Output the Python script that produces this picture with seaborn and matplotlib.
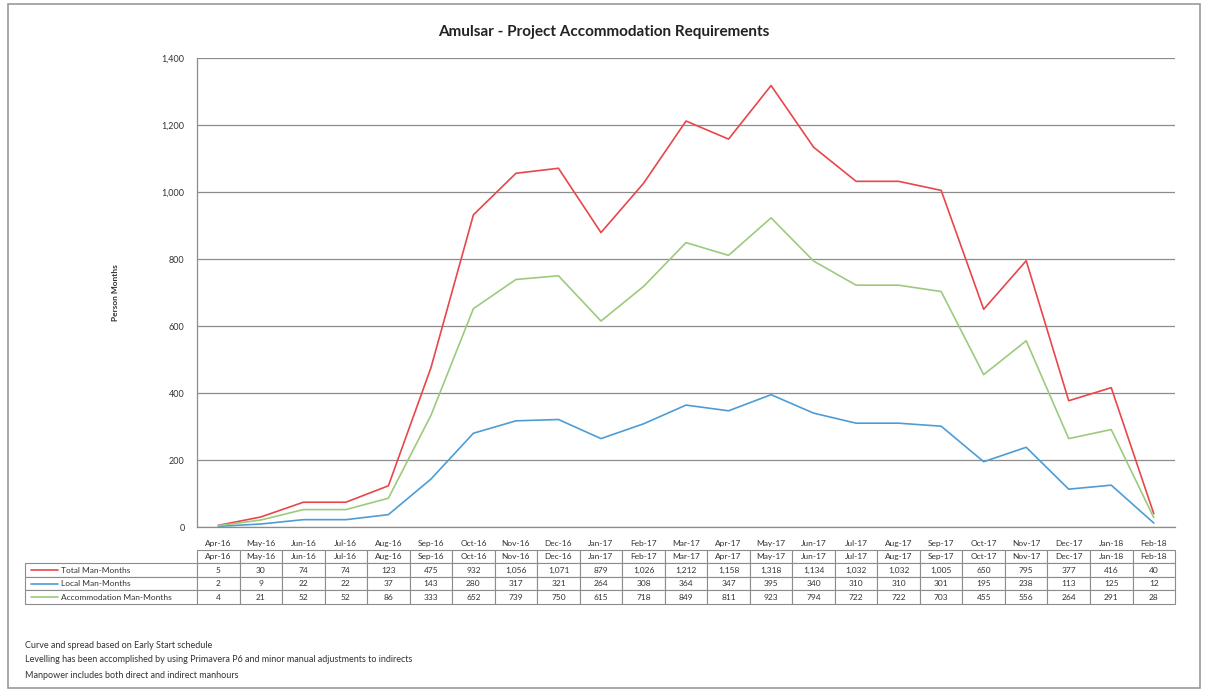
import pandas as pd
import matplotlib
matplotlib.use("Agg")
import matplotlib.pyplot as plt
from matplotlib.patches import Rectangle
import seaborn as sns

months = ["Apr-16", "May-16", "Jun-16", "Jul-16", "Aug-16", "Sep-16", "Oct-16", "Nov-16",
          "Dec-16", "Jan-17", "Feb-17", "Mar-17", "Apr-17", "May-17", "Jun-17", "Jul-17",
          "Aug-17", "Sep-17", "Oct-17", "Nov-17", "Dec-17", "Jan-18", "Feb-18"]
total = [5, 30, 74, 74, 123, 475, 932, 1056, 1071, 879, 1026, 1212, 1158, 1318, 1134,
         1032, 1032, 1005, 650, 795, 377, 416, 40]
local = [2, 9, 22, 22, 37, 143, 280, 317, 321, 264, 308, 364, 347, 395, 340, 310, 310,
         301, 195, 238, 113, 125, 12]
accom = [4, 21, 52, 52, 86, 333, 652, 739, 750, 615, 718, 849, 811, 923, 794, 722, 722,
         703, 455, 556, 264, 291, 28]
series_names = ["Total Man-Months", "Local Man-Months", "Accommodation Man-Months"]
colors = ["#e8464a", "#4d9dd4", "#9dca7c"]
notes = ["Curve and spread based on Early Start schedule",
         "Levelling has been accomplished by using Primavera P6 and minor manual adjustments to indirects",
         "Manpower includes both direct and indirect manhours"]

sns.set_style("white")
plt.rcParams["font.family"] = ["Lato", "DejaVu Sans"]

df = pd.DataFrame({"Month": months * 3,
                   "Value": total + local + accom,
                   "Series": [s for s in series_names for _ in months]})

fig = plt.figure(figsize=(12.08, 6.92), dpi=100)
ax = fig.add_axes([0.1631, 0.2384, 0.8096, 0.6777])

sns.lineplot(data=df, x="Month", y="Value", hue="Series", palette=colors,
             sort=False, linewidth=1.2, legend=False, ax=ax)

ax.set_xlim(-0.5, len(months) - 0.5)
ax.set_ylim(0, 1400)
ax.set_yticks(range(0, 1401, 200))
ax.set_yticklabels([f"{v:,}" for v in range(0, 1401, 200)])
ax.yaxis.grid(True, color="#8c8c8c", linewidth=0.9)
ax.set_xlabel("")
ax.set_ylabel("")
ax.tick_params(axis="y", length=0, pad=9, labelsize=6.5, colors="#333333")
ax.tick_params(axis="x", length=0, pad=9, labelsize=6, colors="#333333")
for side in ["top", "right"]:
    ax.spines[side].set_visible(False)
for side in ["left", "bottom"]:
    ax.spines[side].set_color("#8c8c8c")
    ax.spines[side].set_linewidth(0.9)

# Data table under the chart
label_w = 172 / 978
tb_left, tb_bottom, tb_h = -label_w, -0.164, 0.115
cell_text = [[name] + [f"{v:,}" for v in vals]
             for name, vals in zip(series_names, [total, local, accom])]
col_w = [label_w] + [1 / len(months)] * len(months)
tbl = ax.table(cellText=cell_text, colLabels=[""] + months, colWidths=col_w,
               cellLoc="center", bbox=[tb_left, tb_bottom, 1 + label_w, tb_h])
tbl.auto_set_font_size(False)
tbl.set_fontsize(6)
for (r, c), cell in tbl.get_celld().items():
    cell.set_edgecolor("#8c8c8c")
    cell.set_linewidth(0.8)
    cell.get_text().set_color("#333333")
    if r == 0 and c == 0:
        cell.visible_edges = ""
    if c == 0 and r > 0:
        cell._loc = "left"
        cell.PAD = 0.21
        cell.get_text().set_ha("left")
# legend keys inside the row label cells
n_rows = 4
for i, col in enumerate(colors):
    yc = tb_bottom + tb_h * (1 - (i + 1.5) / n_rows)
    ax.plot([tb_left + 0.006, tb_left + 0.034], [yc, yc], color=col, linewidth=1.2,
            transform=ax.transAxes, clip_on=False)

fig.text(0.5, 1 - 32 / 692, "Amulsar - Project Accommodation Requirements",
         ha="center", va="center", fontsize=11, fontweight="bold", color="#222222")
fig.text(115 / 1208, 0.2384 + 0.6777 / 2, "Person Months", rotation=90,
         ha="center", va="center", fontsize=6, fontweight="bold", color="#333333")
for i, line in enumerate(notes):
    fig.text(25 / 1208, 1 - (645 + 15 * i) / 692, line, ha="left", va="center",
             fontsize=6.5, color="#333333")

fig.patches.append(Rectangle((8 / 1208, 4 / 692), 1192 / 1208, 684 / 692,
                             transform=fig.transFigure, fill=False,
                             edgecolor="#9a9a9a", linewidth=1.2))

fig.savefig("out.png", dpi=100)
